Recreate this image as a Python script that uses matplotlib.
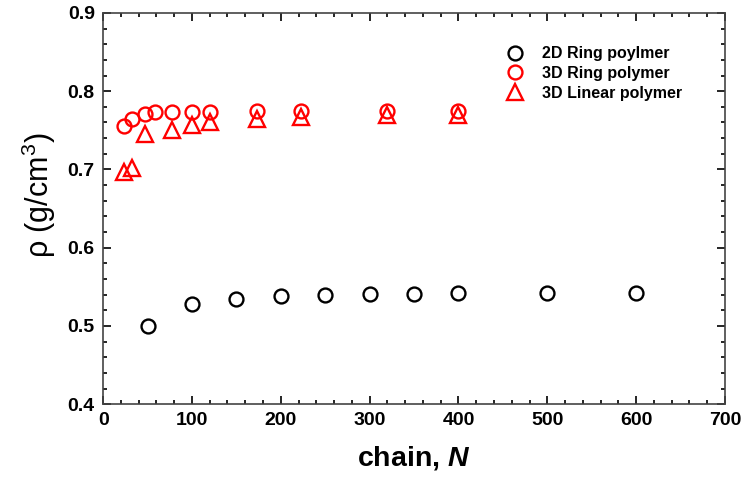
import matplotlib
matplotlib.use("Agg")
import matplotlib.pyplot as plt
from matplotlib.ticker import MultipleLocator

# density vs chain length
n_2d = [50, 100, 150, 200, 250, 300, 350, 400, 500, 600]
rho_2d = [0.500, 0.528, 0.535, 0.538, 0.540, 0.541, 0.541, 0.542, 0.542, 0.542]

n_3d_ring = [23, 32, 47, 58, 77, 100, 120, 173, 223, 320, 400]
rho_3d_ring = [0.756, 0.764, 0.771, 0.773, 0.774, 0.774, 0.774, 0.775, 0.775, 0.775, 0.775]

n_3d_lin = [23, 32, 47, 77, 100, 120, 173, 223, 320, 400]
rho_3d_lin = [0.697, 0.702, 0.745, 0.751, 0.757, 0.760, 0.765, 0.767, 0.769, 0.770]

plt.rcParams["font.family"] = "Liberation Sans"
plt.rcParams["mathtext.fontset"] = "custom"
plt.rcParams["mathtext.rm"] = "Liberation Sans"
plt.rcParams["mathtext.it"] = "Liberation Sans:italic:bold"
plt.rcParams["mathtext.bf"] = "Liberation Sans:bold"

fig = plt.figure(figsize=(7.42, 4.80), dpi=100)
ax = fig.add_axes([0.139, 0.158, 0.838, 0.815])

ax.plot(n_2d, rho_2d, "o", ms=10, mfc="none", mec="black", mew=1.7,
        label="2D Ring poylmer")
ax.plot(n_3d_ring, rho_3d_ring, "o", ms=10, mfc="none", mec="red", mew=1.7,
        label="3D Ring polymer")
ax.plot(n_3d_lin, rho_3d_lin, "^", ms=11, mfc="none", mec="red", mew=1.7,
        label="3D Linear polymer")

ax.set_xlim(0, 700)
ax.set_ylim(0.4, 0.9)
ax.xaxis.set_major_locator(MultipleLocator(100))
ax.xaxis.set_minor_locator(MultipleLocator(20))
ax.yaxis.set_major_locator(MultipleLocator(0.1))
ax.yaxis.set_minor_locator(MultipleLocator(0.02))
ax.tick_params(which="both", direction="in", top=True, right=True, width=1.2)
ax.tick_params(which="major", length=6, labelsize=14, pad=6)
ax.tick_params(which="minor", length=3)
for lbl in ax.get_xticklabels() + ax.get_yticklabels():
    lbl.set_fontweight("bold")
for sp in ax.spines.values():
    sp.set_linewidth(1.2)
    sp.set_color("#444444")

ax.set_xlabel(r"chain, $N$", fontsize=20.5, fontweight="bold")
ax.set_ylabel(r"ρ (g/cm$^3$)", fontsize=22)
ax.xaxis.set_label_coords(0.5, -0.102)
ax.yaxis.set_label_coords(-0.072, 0.535)

ax.legend(loc="upper left", frameon=False,
          prop={"weight": "bold", "size": 11.5},
          bbox_to_anchor=(0.650, 0.915), borderaxespad=0, borderpad=0,
          handlelength=1.0, handletextpad=1.2, labelspacing=0.3)

fig.savefig("out.png", dpi=100)
